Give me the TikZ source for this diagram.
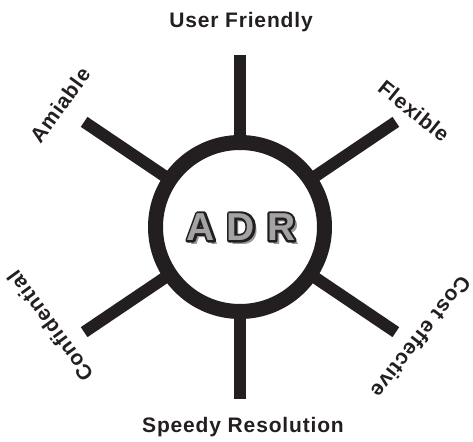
\documentclass[tikz,border=0pt]{standalone}
\usepackage{fontspec}
\setmainfont{Liberation Sans}
\newfontfamily\lblfont[LetterSpace=4]{Liberation Sans}
\usetikzlibrary{calc}
\definecolor{ink}{RGB}{35,31,32}
\definecolor{stone}{RGB}{163,163,163}
\tikzset{
  hub/.style={circle,draw=ink,line width=15pt,minimum size=169pt,inner sep=0pt},
  spoke/.style={draw=ink,line width=12pt,shorten <=-3pt},
  lbl/.style={text=ink,font=\lblfont\bfseries\fontsize{21}{24}\selectfont,inner sep=0pt},
  adr/.style={font=\bfseries\fontsize{39}{44}\selectfont,inner sep=0pt},
}
\newcommand{\adrword}{A\hspace{12pt}D\hspace{12pt}R}
% stroked outline under a flat grey face, soft shadow below
\newcommand{\adrrim}{\special{pdf:literal direct 0.137 0.122 0.125 RG 4.6 w 1 j 1 Tr}\adrword\special{pdf:literal direct 0 Tr}}
\newcommand{\adrmark}{%
  \rlap{\hspace{4pt}\raisebox{-4pt}{\textcolor{ink!45}{\adrword}}}%
  \rlap{\adrrim}\textcolor{stone}{\adrword}}

\begin{document}
\begin{tikzpicture}[x=1pt,y=1pt]
  \useasboundingbox (-240,-214) rectangle (233,227);
  \node[hub] (hub) at (0,0) {};
  \foreach \a/\r [count=\i] in {90/172,34/188,326/188,270/172,214/188,146/188}{
    \coordinate (end\i) at (\a:\r);
    \draw[spoke] (hub.\a) -- (end\i);
  }
  % labels round the hub
  \foreach \t/\x/\y/\rot [count=\i] in {User Friendly/1/205/0,Flexible/174/116/-39,
      Cost effective/181/-110/-128,Speedy Resolution/3/-200/0,
      Confidential/-190/-99/126,Amiable/-180/122/54}
    \node[lbl,rotate=\rot] (lbl\i) at (\x,\y) {\t};
  \node[adr] (adr) at (1,-2) {\adrmark};
\end{tikzpicture}
\end{document}
